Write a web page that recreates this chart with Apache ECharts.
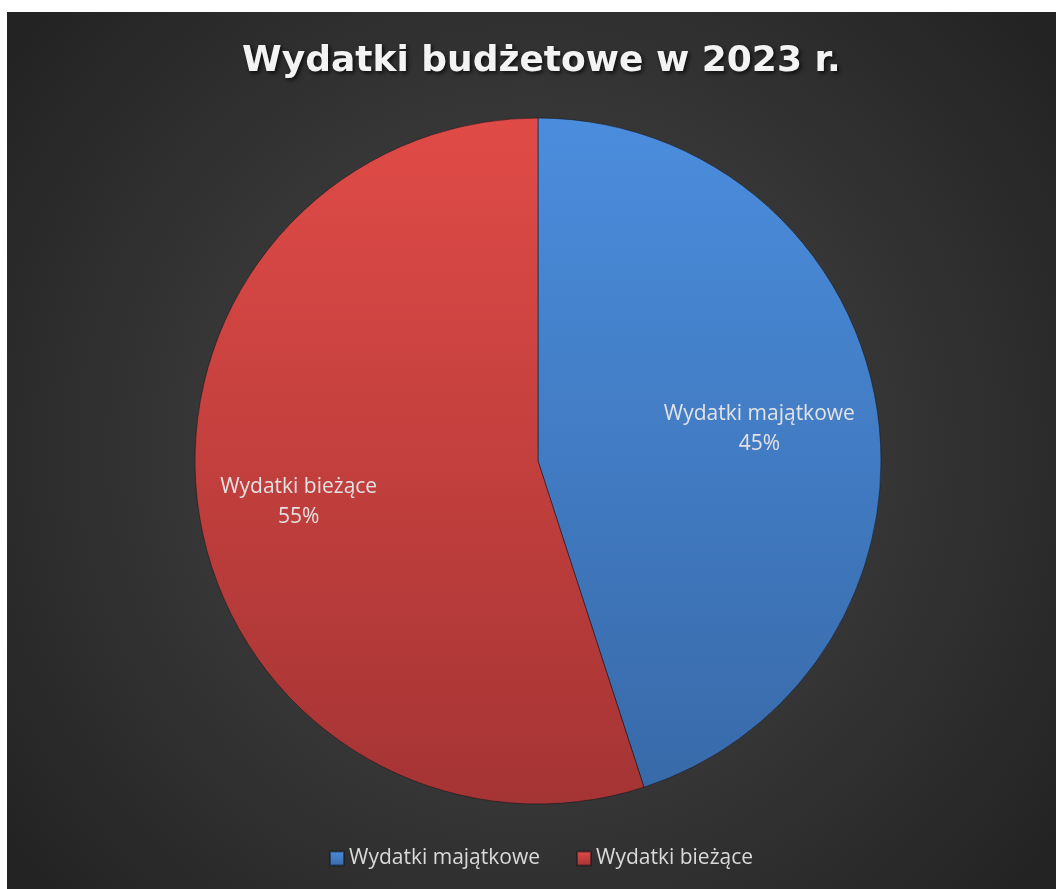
<!DOCTYPE html>
<html>
<head>
<meta charset="utf-8">
<script src="https://cdn.jsdelivr.net/npm/echarts@6/dist/echarts.min.js"></script>
<style>
  html, body { margin: 0; padding: 0; background: #ffffff; width: 1056px; height: 889px; overflow: hidden; }
  #chart { position: absolute; left: 7px; top: 12px; width: 1049px; height: 877px; }
</style>
</head>
<body>
<div id="chart"></div>
<script>
const titleText = 'Wydatki budżetowe w 2023 r.';
const categories = ['Wydatki majątkowe', 'Wydatki bieżące'];
const values = [45, 55];

const chart = echarts.init(document.getElementById('chart'));

const fills = [
  new echarts.graphic.LinearGradient(0, 0, 0, 1, [
    { offset: 0, color: '#4b8ddd' },
    { offset: 1, color: '#386aa9' }
  ]),
  new echarts.graphic.LinearGradient(0, 0, 0, 1, [
    { offset: 0, color: '#e04b47' },
    { offset: 1, color: '#a53434' }
  ])
];
const labelOffsets = [[49, -5], [-67, 14]];

chart.setOption({
  backgroundColor: new echarts.graphic.RadialGradient(0.5, 0.5, 0.75, [
    { offset: 0, color: '#4a4a4a' },
    { offset: 1, color: '#232323' }
  ]),
  title: {
    text: titleText,
    left: 230,
    top: 27,
    textStyle: {
      fontFamily: 'DejaVu Sans',
      fontWeight: 'bold',
      fontSize: 36,
      color: '#f3f3f3',
      textShadowColor: 'rgba(0,0,0,0.75)',
      textShadowBlur: 4,
      textShadowOffsetX: 2,
      textShadowOffsetY: 2
    }
  },
  legend: {
    bottom: 15,
    left: 317,
    itemWidth: 14,
    itemHeight: 14,
    itemGap: 36,
    icon: 'rect',
    textStyle: { color: '#d9d9d9', fontSize: 21, fontFamily: 'Open Sans', padding: [0, 0, 0, 0] },
    data: categories
  },
  series: [{
    type: 'pie',
    center: [531, 449],
    radius: 343,
    startAngle: 90,
    clockwise: true,
    animation: false,
    label: {
      show: true,
      position: 'inside',
      formatter: '{b}\n{d}%',
      color: '#e3e3e3',
      fontSize: 21,
      lineHeight: 30,
      fontFamily: 'Open Sans',
      align: 'center'
    },
    labelLine: { show: false },
    itemStyle: {
      borderColor: 'rgba(20,20,30,0.55)',
      borderWidth: 1
    },
    data: categories.map((c, i) => ({
      name: c,
      value: values[i],
      itemStyle: { color: fills[i] },
      label: { offset: labelOffsets[i] }
    }))
  }]
});
</script>
</body>
</html>
